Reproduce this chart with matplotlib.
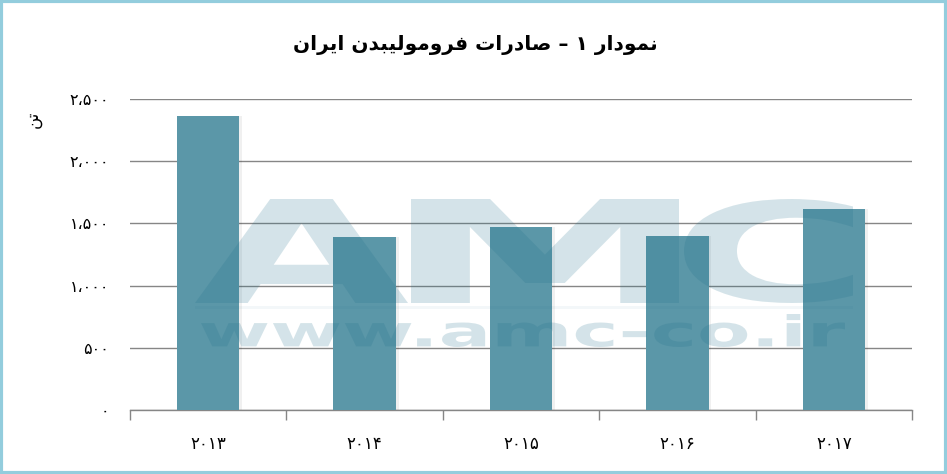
import matplotlib
matplotlib.use("Agg")
import matplotlib.pyplot as plt
from matplotlib.textpath import TextPath
from matplotlib.patches import PathPatch, Rectangle
from matplotlib.font_manager import FontProperties
import matplotlib.transforms as mtransforms

# data (tonnes)
years = [2013, 2014, 2015, 2016, 2017]
exports = [2365, 1393, 1473, 1400, 1618]
y_ticks = [0, 500, 1000, 1500, 2000, 2500]

title_text = "نمودار ۱ – صادرات فرومولیبدن ایران"
y_label_text = "تن"

# arabic presentation forms: isolated, final, initial, medial
FORMS = {
    "ا": ("\uFE8D", "\uFE8E", None, None),
    "ب": ("\uFE8F", "\uFE90", "\uFE91", "\uFE92"),
    "ت": ("\uFE95", "\uFE96", "\uFE97", "\uFE98"),
    "د": ("\uFEA9", "\uFEAA", None, None),
    "ر": ("\uFEAD", "\uFEAE", None, None),
    "ص": ("\uFEB9", "\uFEBA", "\uFEBB", "\uFEBC"),
    "ف": ("\uFED1", "\uFED2", "\uFED3", "\uFED4"),
    "ل": ("\uFEDD", "\uFEDE", "\uFEDF", "\uFEE0"),
    "م": ("\uFEE1", "\uFEE2", "\uFEE3", "\uFEE4"),
    "ن": ("\uFEE5", "\uFEE6", "\uFEE7", "\uFEE8"),
    "و": ("\uFEED", "\uFEEE", None, None),
    "ی": ("\uFBFC", "\uFBFD", "\uFBFE", "\uFBFF"),
}


def shape(text):
    # join letters and put them in visual (left to right) order
    out = []
    for i, ch in enumerate(text):
        if ch not in FORMS:
            out.append(ch)
            continue
        prev = text[i - 1] if i > 0 else ""
        nxt = text[i + 1] if i + 1 < len(text) else ""
        iso, fin, ini, med = FORMS[ch]
        j_prev = prev in FORMS and FORMS[prev][2] is not None
        j_next = nxt in FORMS and ini is not None
        if j_prev and j_next:
            out.append(med)
        elif j_prev:
            out.append(fin)
        elif j_next:
            out.append(ini)
        else:
            out.append(iso)
    return "".join(out)[::-1]


def fa_num(n, sep=True):
    s = "{:,}".format(n) if sep else str(n)
    s = s.replace(",", "\u060C")
    return s.translate(str.maketrans("0123456789", "۰۱۲۳۴۵۶۷۸۹"))


W, H = 947, 474
fig = plt.figure(figsize=(W / 100, H / 100), dpi=100)
ax = fig.add_axes([130 / W, 1 - 410 / H, (912 - 130) / W, (410 - 99) / H])

bar_color = "#5b97a8"
grid_color = "#868686"
x = list(range(len(years)))

# soft shadow then bars
ax.bar([i + 0.012 for i in x], exports, width=0.41, color="#000000", alpha=0.06, zorder=2)
ax.bar(x, exports, width=0.4, color=bar_color, zorder=3)

ax.set_xlim(-0.5, len(years) - 0.5)
ax.set_ylim(0, 2500)
ax.set_yticks(y_ticks)
ax.set_yticklabels([fa_num(v) for v in y_ticks])
ax.set_xticks(x)
ax.set_xticklabels([fa_num(y, sep=False) for y in years])
ax.set_xticks([i - 0.5 for i in range(len(years) + 1)], minor=True)

ax.yaxis.grid(True, color=grid_color, linewidth=1.0, zorder=1)
ax.set_axisbelow(True)
for side in ["left", "right", "top"]:
    ax.spines[side].set_visible(False)
ax.spines["bottom"].set_color(grid_color)
ax.spines["bottom"].set_linewidth(1.0)

ax.tick_params(axis="y", length=0, pad=15, labelsize=11.5, labelcolor="#000000")
ax.tick_params(axis="x", which="major", length=0, pad=18, labelsize=12)
ax.tick_params(axis="x", which="minor", length=7, width=1.0, color=grid_color)

fig.text(475 / W, 1 - 45 / H, shape(title_text), ha="center", va="center",
         fontsize=14.5, fontweight="bold")
fig.text(33 / W, 1 - 119 / H, shape(y_label_text), ha="center", va="center",
         fontsize=12, rotation=90)

# watermark, stretched into the boxes it fills on the picture
wm_color = "#1f6f8b"
wm_font = FontProperties(family="DejaVu Sans", weight="bold")


def stamp(s, x0, x1, top, bottom):
    tp = TextPath((0, 0), s, size=100, prop=wm_font)
    ext = tp.get_extents()
    sx = (x1 - x0) / W / ext.width
    sy = (bottom - top) / H / ext.height
    tr = mtransforms.Affine2D().translate(-ext.x0, -ext.y0).scale(sx, sy) \
        .translate(x0 / W, 1 - bottom / H)
    patch = PathPatch(tr.transform_path(tp), transform=fig.transFigure,
                      facecolor=wm_color, edgecolor="none", alpha=0.19, zorder=10)
    fig.add_artist(patch)


stamp("A", 195, 408, 199, 303)
stamp("M", 411, 679, 199, 303)
stamp("C", 684, 853, 199, 303)
stamp("www.amc-co.ir", 201, 845, 314, 347)
fig.add_artist(Rectangle((195 / W, 1 - 309 / H), (853 - 195) / W, 3 / H,
                         transform=fig.transFigure, facecolor=wm_color,
                         edgecolor="none", alpha=0.05, zorder=10))

# light blue frame round the chart
fig.add_artist(Rectangle((0.0015, 0.003), 0.997, 0.994, transform=fig.transFigure,
                         fill=False, edgecolor="#93cddd", linewidth=3, zorder=20))

fig.savefig("out.png", dpi=100)
